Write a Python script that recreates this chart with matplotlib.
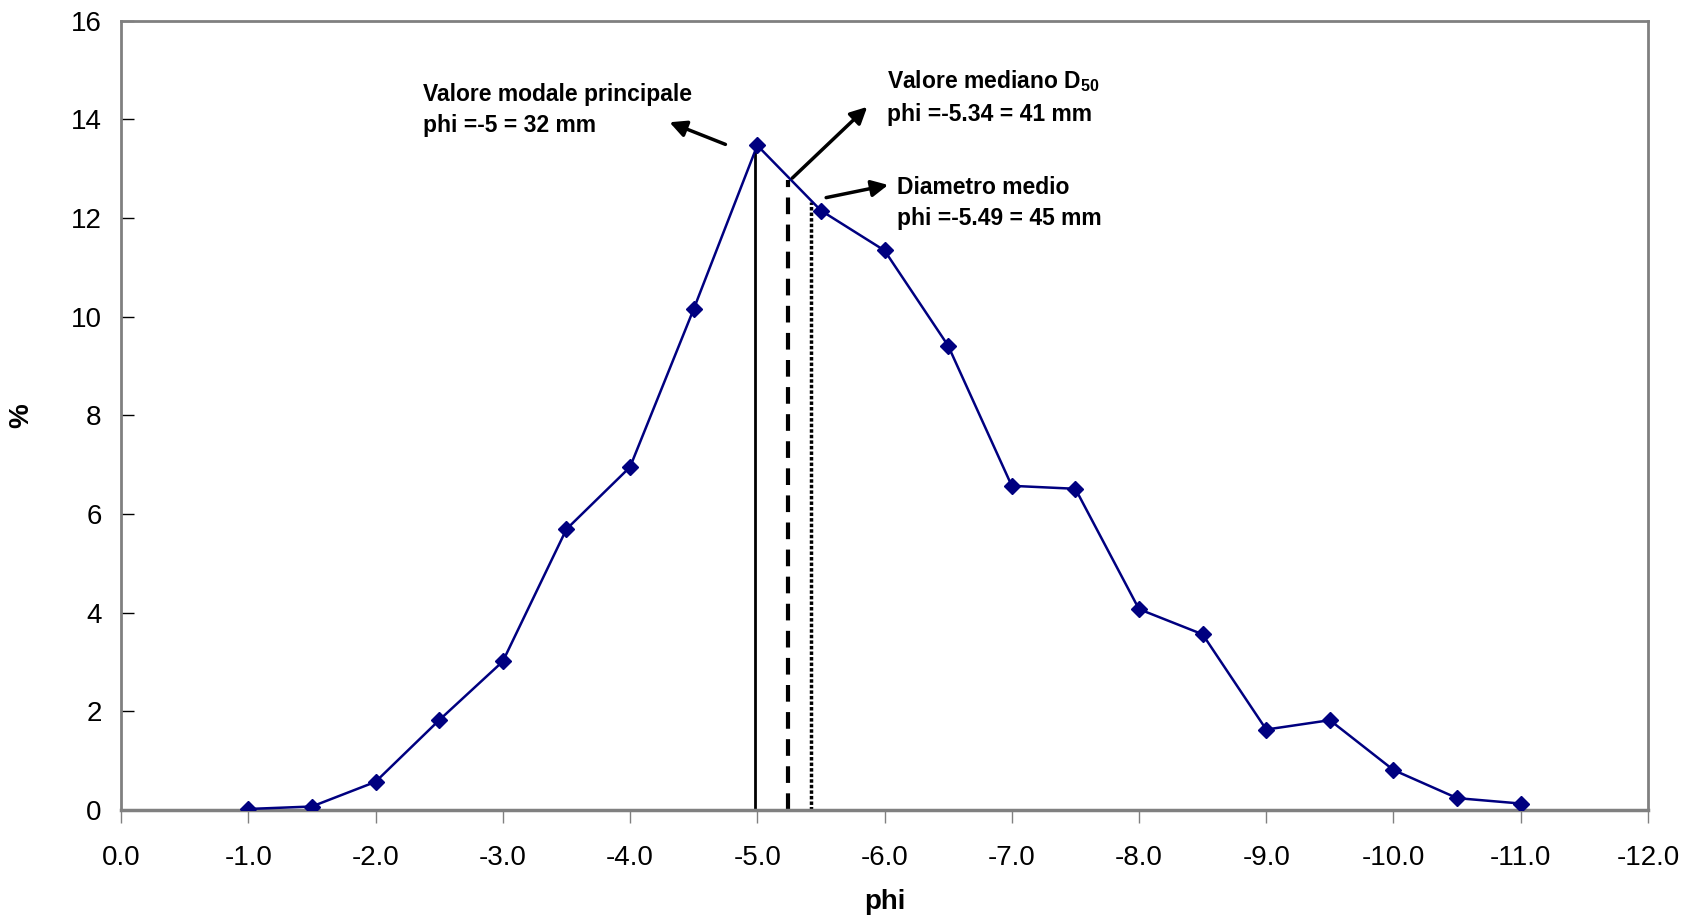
import matplotlib.pyplot as plt

phi = [-1.0, -1.5, -2.0, -2.5, -3.0, -3.5, -4.0, -4.5, -5.0, -5.5, -6.0,
       -6.5, -7.0, -7.5, -8.0, -8.5, -9.0, -9.5, -10.0, -10.5, -11.0]
perc = [0.02, 0.07, 0.57, 1.82, 3.01, 5.69, 6.95, 10.15, 13.47, 12.15, 11.34,
        9.41, 6.57, 6.51, 4.07, 3.56, 1.63, 1.82, 0.81, 0.24, 0.13]

x_ticks = [0.0, -1.0, -2.0, -3.0, -4.0, -5.0, -6.0, -7.0, -8.0, -9.0, -10.0, -11.0, -12.0]
y_ticks = [0, 2, 4, 6, 8, 10, 12, 14, 16]

# vertical markers: modal, median (D50), mean
modal_x, modal_top = -4.98, 13.45
median_x, median_top = -5.24, 12.77
mean_x, mean_top = -5.42, 12.33

plt.rcParams['font.family'] = ['Liberation Sans', 'DejaVu Sans']
plt.rcParams['mathtext.fontset'] = 'custom'
plt.rcParams['mathtext.rm'] = 'Liberation Sans'
plt.rcParams['mathtext.bf'] = 'Liberation Sans:bold'

fig = plt.figure(figsize=(17, 9.15), dpi=100)
ax = fig.add_axes([0.0712, 0.1148, 0.8982, 0.8627])

ax.plot(phi, perc, color='#000080', linewidth=1.8, marker='D', markersize=8, zorder=3)

ax.plot([modal_x, modal_x], [0, modal_top], color='black', linewidth=2, linestyle='-')
ax.plot([median_x, median_x], [0, median_top], color='black', linewidth=3, linestyle=(0, (4, 2.5)))
ax.plot([mean_x, mean_x], [0, mean_top], color='black', linewidth=2.5, linestyle=(0, (1, 0.6)))

arrow = dict(arrowstyle='-|>', color='black', lw=2.5, mutation_scale=25)
ax.annotate('', xy=(-4.29, 13.96), xytext=(-4.77, 13.47), arrowprops=arrow)
ax.annotate('', xy=(-5.88, 14.29), xytext=(-5.26, 12.77), arrowprops=arrow)
ax.annotate('', xy=(-6.05, 12.68), xytext=(-5.52, 12.40), arrowprops=arrow)

tkw = dict(fontsize=16.5, fontweight='bold', va='center', ha='left')
ax.text(-2.37, 14.51, 'Valore modale principale', **tkw)
ax.text(-2.37, 13.87, 'phi =-5 = 32 mm', **tkw)
ax.text(-6.02, 14.77, 'Valore mediano D$_{\\mathbf{50}}$', **tkw)
ax.text(-6.02, 14.09, 'phi =-5.34 = 41 mm', **tkw)
ax.text(-6.10, 12.62, 'Diametro medio', **tkw)
ax.text(-6.10, 11.98, 'phi =-5.49 = 45 mm', **tkw)

ax.set_xlim(0, -12)
ax.set_ylim(0, 16)
ax.set_xticks(x_ticks)
ax.set_xticklabels(['%.1f' % v for v in x_ticks])
ax.set_yticks(y_ticks)
ax.tick_params(axis='x', direction='out', length=9, width=1, labelsize=20, pad=16, color='#808080')
ax.tick_params(axis='y', direction='in', length=9, width=1, labelsize=20, pad=14)

for s in ax.spines.values():
    s.set_color('#808080')
    s.set_linewidth(2)
ax.spines['bottom'].set_linewidth(2.5)

ax.set_xlabel('phi', fontsize=20, fontweight='bold', labelpad=13)
ax.set_ylabel('%', fontsize=20, fontweight='bold', labelpad=26)

fig.savefig('out.png', dpi=100)
